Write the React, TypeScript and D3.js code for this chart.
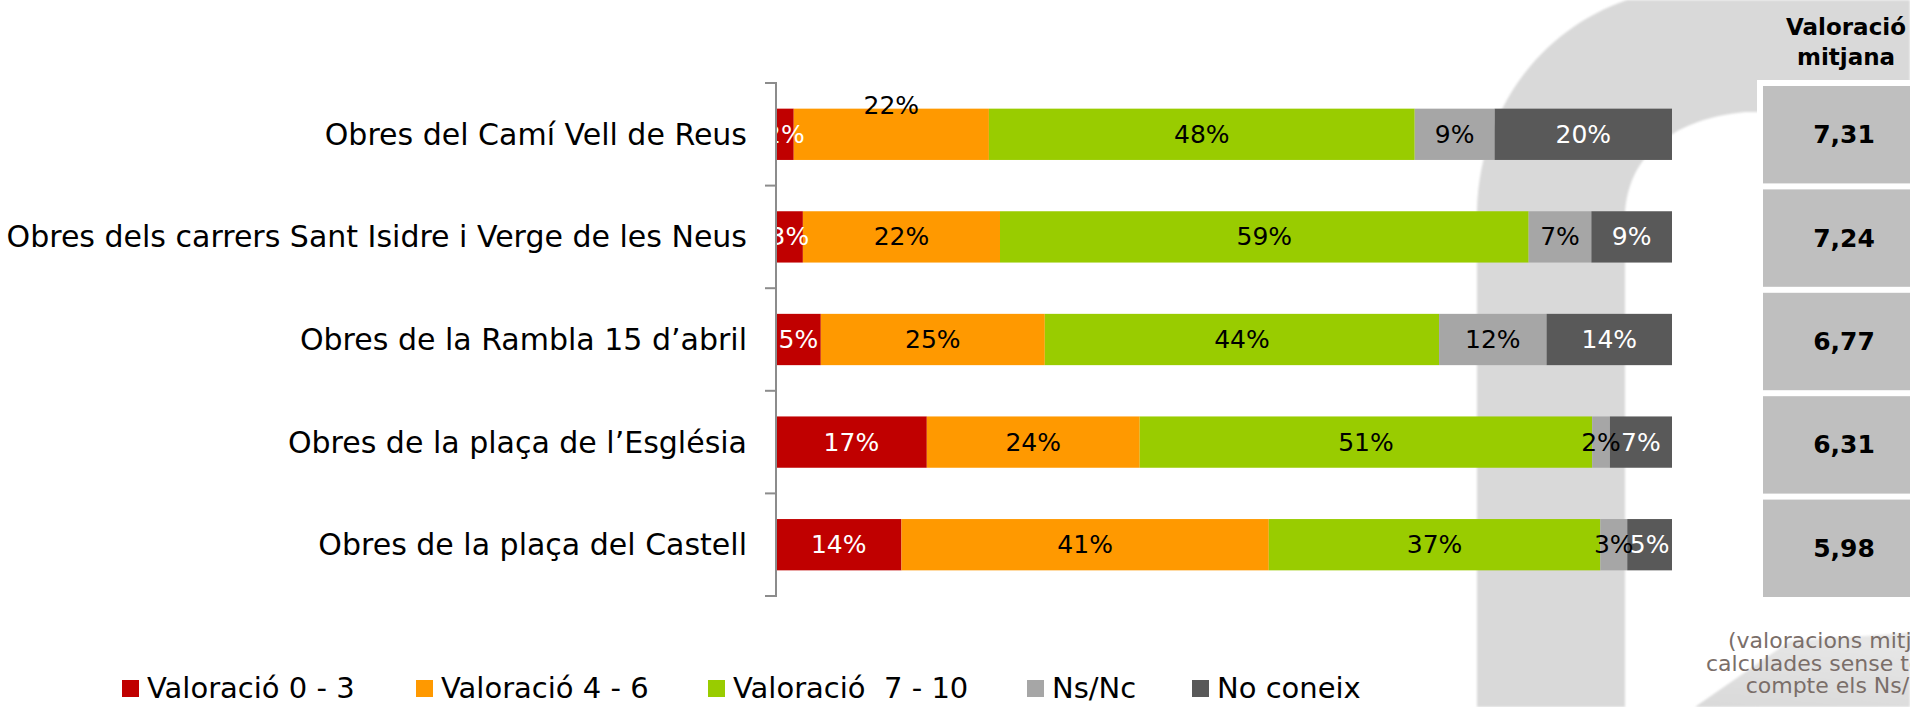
import React, { useEffect } from "react";
import * as d3 from "d3";

const categories = [
  "Obres del Camí Vell de Reus",
  "Obres dels carrers Sant Isidre i Verge de les Neus",
  "Obres de la Rambla 15 d’abril",
  "Obres de la plaça de l’Església",
  "Obres de la plaça del Castell",
];
const seriesNames = ["Valoració 0 - 3", "Valoració 4 - 6", "Valoració  7 - 10", "Ns/Nc", "No coneix"];
const val03 = [2, 3, 5, 17, 14];
const val46 = [22, 22, 25, 24, 41];
const val710 = [48, 59, 44, 51, 37];
const nsnc = [9, 7, 12, 2, 3];
const noConeix = [20, 9, 14, 7, 5];
const mitjana = [7.31, 7.24, 6.77, 6.31, 5.98];
const colors = ["#c00000", "#ff9900", "#99cc00", "#a6a6a6", "#595959"];
const labelColors = ["#ffffff", "#000000", "#000000", "#000000", "#ffffff"];
const headerLines = ["Valoració", "mitjana"];
const noteLines = ["(valoracions mitjanes", "calculades sense tenir en", "compte els Ns/Nc)"];

const W = 1910;
const H = 707;
const FONT = "'DejaVu Sans', sans-serif";

export default function App() {
  useEffect(() => {
    document.body.style.margin = "0";
  }, []);

  const seriesVals = [val03, val46, val710, nsnc, noConeix];
  const rows = categories.map((c, i) => {
    const o: any = { cat: c };
    seriesNames.forEach((s, j) => (o[s] = seriesVals[j][i]));
    return o;
  });
  const stacked = d3.stack<any>().keys(seriesNames).offset(d3.stackOffsetExpand)(rows);

  const x = d3.scaleLinear().domain([0, 1]).range([776, 1672]);
  const y = d3.scaleBand<string>().domain(categories).range([83, 596]).paddingInner(0.5).paddingOuter(0.25);
  const yBox = d3.scaleBand<string>().domain(categories).range([83, 600]).paddingInner(0.058).paddingOuter(0.029);
  const step = y.step();
  const tickYs = d3.range(categories.length + 1).map((k) => 83 + k * step);
  const fmt = (v: number) => d3.format(".2f")(v).replace(".", ",");

  const legendX = [122, 416, 708, 1027, 1192];

  // background arch path
  const arch = d3.path();
  arch.moveTo(1477, H);
  arch.lineTo(1477, 210);
  arch.bezierCurveTo(1480, 110, 1540, 30, 1627, 0);
  arch.lineTo(W, 0);
  arch.lineTo(W, 112);
  arch.lineTo(1745, 112);
  arch.bezierCurveTo(1680, 118, 1628, 150, 1625, 215);
  arch.lineTo(1625, H);
  arch.closePath();

  const leg = d3.path();
  leg.moveTo(1695, H);
  leg.lineTo(1790, 641);
  leg.lineTo(W, 633);
  leg.lineTo(W, H);
  leg.closePath();

  return (
    <svg width={W} height={H} style={{ display: "block", background: "#fff" }} fontFamily={FONT}>
      <defs>
        <filter id="soft" x="-5%" y="-5%" width="110%" height="110%">
          <feGaussianBlur stdDeviation="1.2" />
        </filter>
        <linearGradient id="legFade" x1="0" y1="1" x2="0.3" y2="0">
          <stop offset="0" stopColor="#d9d9d9" />
          <stop offset="1" stopColor="#e6e6e6" />
        </linearGradient>
      </defs>
      <path d={arch.toString()} fill="#d9d9d9" filter="url(#soft)" />
      <path d={leg.toString()} fill="url(#legFade)" filter="url(#soft)" />

      {/* category labels */}
      {categories.map((c) => (
        <text key={c} x={747} y={y(c)! + y.bandwidth() / 2} textAnchor="end" dominantBaseline="central" fontSize={30} fill="#000">
          {c}
        </text>
      ))}

      {/* bars */}
      {stacked.map((layer, j) =>
        layer.map((d, i) => {
          const cat = categories[i];
          const x0 = x(d[0]);
          const x1 = x(d[1]);
          return (
            <rect key={`${j}-${i}`} x={x0} y={y(cat)!} width={Math.max(0, x1 - x0)} height={y.bandwidth()} fill={colors[j]} />
          );
        })
      )}
      {stacked.map((layer, j) =>
        layer.map((d, i) => {
          const cat = categories[i];
          const cx = (x(d[0]) + x(d[1])) / 2;
          let cy = y(cat)! + y.bandwidth() / 2;
          let fill = labelColors[j];
          if (i === 0 && j === 1) {
            cy -= 29;
            fill = "#000";
          }
          return (
            <text key={`l${j}-${i}`} x={cx} y={cy} textAnchor="middle" dominantBaseline="central" fontSize={25} fill={fill}>
              {seriesVals[j][i] + "%"}
            </text>
          );
        })
      )}

      {/* axis */}
      <line x1={776} x2={776} y1={tickYs[0]} y2={tickYs[tickYs.length - 1]} stroke="#8c8c8c" strokeWidth={2} />
      {tickYs.map((t, k) => (
        <line key={k} x1={765} x2={777} y1={t} y2={t} stroke="#8c8c8c" strokeWidth={2} />
      ))}

      {/* legend */}
      {seriesNames.map((s, j) => (
        <g key={s}>
          <rect x={legendX[j]} y={680} width={17} height={17} fill={colors[j]} />
          <text x={legendX[j] + 25} y={688} dominantBaseline="central" fontSize={29} fill="#000" style={{ whiteSpace: "pre" }}>
            {s}
          </text>
        </g>
      ))}

      {/* right panel */}
      {headerLines.map((l, k) => (
        <text key={l} x={1846} y={35 + k * 30} textAnchor="middle" fontSize={23} fontWeight="bold" fill="#000">
          {l}
        </text>
      ))}
      <rect x={1757} y={80} width={W - 1757} height={523} fill="#fff" />
      {categories.map((c, i) => (
        <g key={`b${i}`}>
          <rect x={1763} y={yBox(c)!} width={W - 1763 + 10} height={yBox.bandwidth()} fill="#bfbfbf" />
          <text x={1844} y={yBox(c)! + yBox.bandwidth() / 2} textAnchor="middle" dominantBaseline="central" fontSize={25} fontWeight="bold" fill="#000">
            {fmt(mitjana[i])}
          </text>
        </g>
      ))}
      {noteLines.map((l, k) => (
        <text key={l} x={1846} y={648 + k * 22.5} textAnchor="middle" fontSize={22} fill="#7a6e69">
          {l}
        </text>
      ))}
    </svg>
  );
}
